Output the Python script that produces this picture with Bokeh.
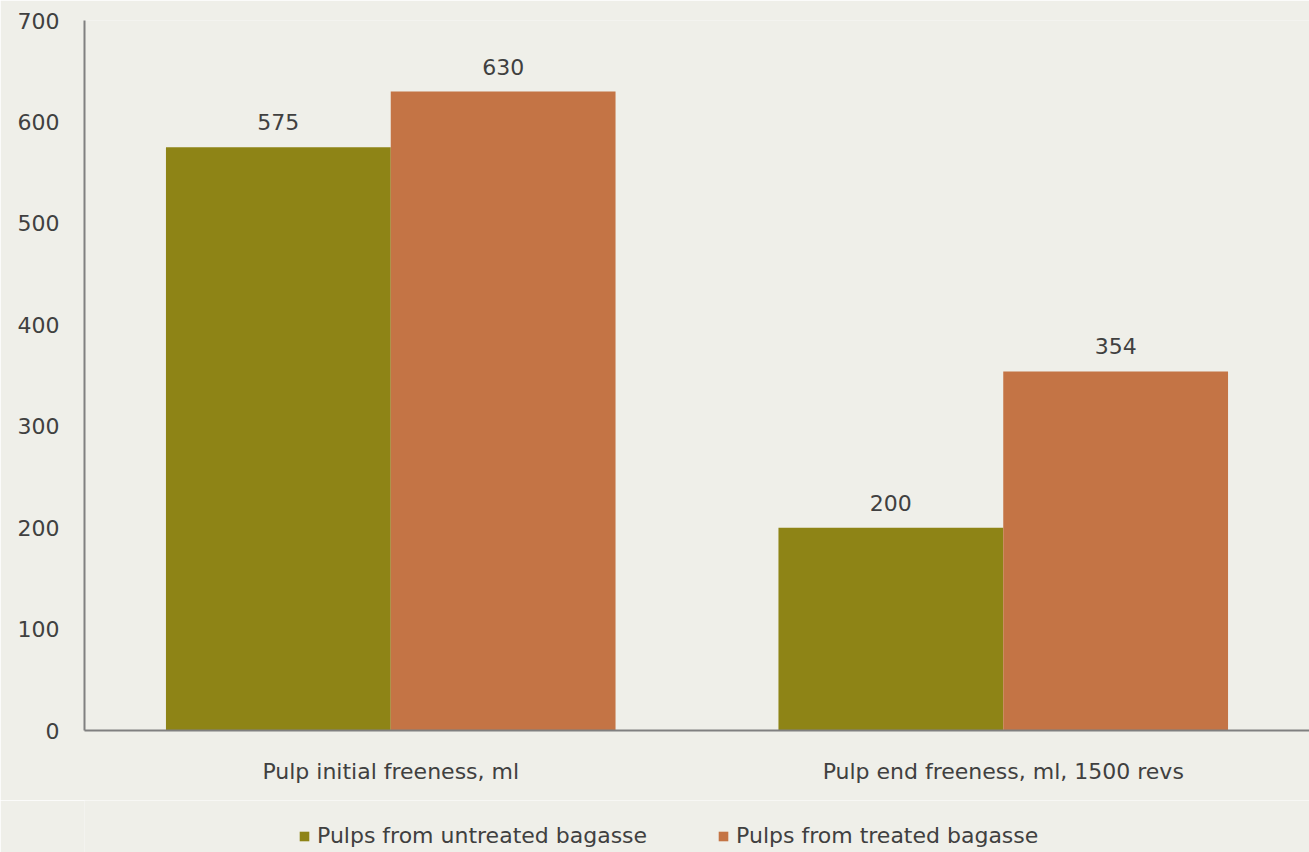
from bokeh.plotting import figure
from bokeh.layouts import column
from bokeh.models import ColumnDataSource, FactorRange, LabelSet, Legend, LegendItem, FixedTicker
from bokeh.core.properties import value
from bokeh.transform import dodge
from bokeh.embed import file_html
from bokeh.resources import INLINE

categories = ["Pulp initial freeness, ml", "Pulp end freeness, ml, 1500 revs"]
untreated = [575, 200]
treated = [630, 354]
series_names = ["Pulps from untreated bagasse", "Pulps from treated bagasse"]
y_ticks = [0, 100, 200, 300, 400, 500, 600, 700]

OLIVE = "#8e8416"
ORANGE = "#c47445"
BG = "#efefe9"
FONT = "DejaVu Sans"
FS = "22px"
TXT = "#404040"

src = ColumnDataSource(dict(cat=categories, u=untreated, t=treated,
                            ul=[str(v) for v in untreated], tl=[str(v) for v in treated]))

p = figure(x_range=FactorRange(*categories, range_padding=0), y_range=(0, 700),
           width=1309, height=800, output_backend="svg", toolbar_location=None,
           min_border_left=84, min_border_right=0, min_border_top=20, min_border_bottom=70)
p.background_fill_color = BG
p.border_fill_color = BG
p.outline_line_color = None
p.grid.grid_line_color = None

bw = 0.367
r1 = p.vbar(x=dodge("cat", -bw / 2, range=p.x_range), top="u", width=bw, source=src,
            fill_color=OLIVE, line_color=None)
r2 = p.vbar(x=dodge("cat", bw / 2, range=p.x_range), top="t", width=bw, source=src,
            fill_color=ORANGE, line_color=None)

for col, lab, off in (("u", "ul", -bw / 2), ("t", "tl", bw / 2)):
    p.add_layout(LabelSet(x=dodge("cat", off, range=p.x_range), y=col, text=lab, source=src,
                          text_align="center", text_baseline="bottom", y_offset=17,
                          text_font=value(FONT), text_font_size=FS, text_color=TXT))

p.yaxis.ticker = FixedTicker(ticks=y_ticks)
p.yaxis.major_tick_line_color = None
p.yaxis.minor_tick_line_color = None
p.yaxis.major_tick_out = 0
p.yaxis.major_label_standoff = 25
p.yaxis.axis_line_color = "#808080"
p.yaxis.axis_line_width = 2
p.xaxis.axis_line_color = "#808080"
p.xaxis.axis_line_width = 2
p.xaxis.major_tick_line_color = None
p.xaxis.major_tick_out = 0
p.xaxis.major_label_standoff = 28
for ax in (p.xaxis, p.yaxis):
    ax.major_label_text_font = FONT
    ax.major_label_text_font_size = FS
    ax.major_label_text_color = TXT

# legend strip below the chart (its frame is aligned with the chart's frame)
lf = figure(width=1309, height=52, output_backend="svg", toolbar_location=None,
            min_border_left=0, min_border_right=0, min_border_top=0, min_border_bottom=0,
            x_range=(0, 1), y_range=(0, 1))
lf.background_fill_color = BG
lf.border_fill_color = BG
lf.outline_line_color = None
lf.axis.visible = False
lf.grid.grid_line_color = None
l1 = lf.vbar(x=[-5], top=[0], width=0.1, fill_color=OLIVE, line_color=None)
l2 = lf.vbar(x=[-5], top=[0], width=0.1, fill_color=ORANGE, line_color=None)
legend = Legend(items=[LegendItem(label=series_names[0], renderers=[l1]),
                       LegendItem(label=series_names[1], renderers=[l2])],
                orientation="horizontal", location=(214, 4),
                background_fill_alpha=0, border_line_color=None,
                label_text_font=FONT, label_text_font_size=FS, label_text_color=TXT,
                glyph_width=12, glyph_height=12, spacing=70, padding=0, margin=0,
                label_standoff=7)
lf.add_layout(legend, "center")

layout = column(p, lf, spacing=0)
open("out.html", "w").write(file_html(layout, INLINE))
